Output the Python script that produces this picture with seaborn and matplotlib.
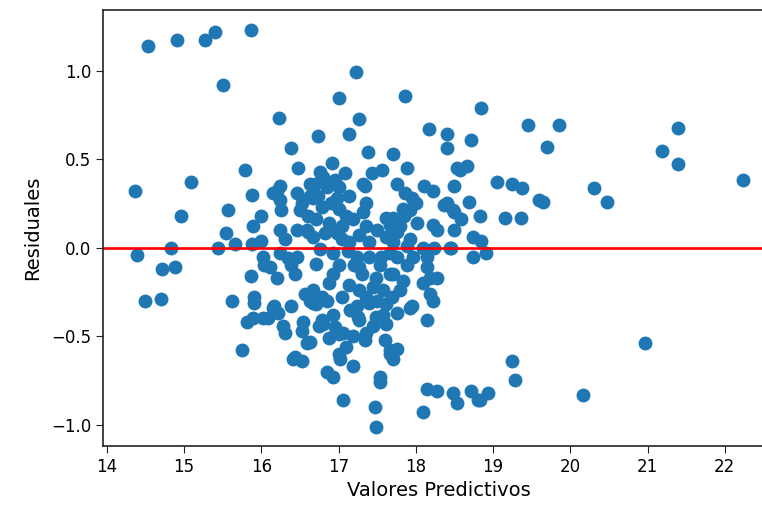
import matplotlib
matplotlib.use("Agg")
import matplotlib.pyplot as plt
import seaborn as sns
import pandas as pd

# Predicted values (x) and residuals (y)
predichos = [
    14.36, 14.39, 14.49, 14.53, 14.70, 14.71, 14.83, 14.88, 14.91, 14.96,
    15.09, 15.27, 15.40, 15.44, 15.50, 15.54, 15.57, 15.62, 15.66, 15.75,
    15.79, 15.81, 15.86, 15.86, 15.88, 15.88, 15.89, 15.89, 15.91, 15.91,
    16.00, 16.00, 16.02, 16.02, 16.04, 16.09, 16.11, 16.15, 16.15, 16.17,
    16.20, 16.20, 16.22, 16.23, 16.24, 16.24, 16.24, 16.24, 16.26, 16.28,
    16.30, 16.30, 16.35, 16.38, 16.38, 16.39, 16.41, 16.43, 16.43, 16.46,
    16.46, 16.46, 16.48, 16.50, 16.52, 16.52, 16.52, 16.54, 16.56, 16.59,
    16.59, 16.60, 16.63, 16.63, 16.63, 16.63, 16.67, 16.67, 16.67, 16.67,
    16.69, 16.71, 16.71, 16.71, 16.73, 16.73, 16.75, 16.76, 16.76, 16.79,
    16.79, 16.79, 16.80, 16.85, 16.85, 16.88, 16.88, 16.88, 16.91, 16.93,
    16.93, 16.93, 16.93, 16.98, 16.98, 17.00, 17.01, 17.01, 17.01, 17.01,
    17.01, 17.02, 17.05, 17.05, 17.06, 17.06, 17.10, 17.13, 17.14, 17.14,
    17.14, 17.19, 17.19, 17.19, 17.22, 17.24, 17.24, 17.25, 17.26, 17.27,
    17.27, 17.27, 17.27, 17.31, 17.31, 17.34, 17.34, 17.36, 17.36, 17.38,
    17.40, 17.40, 17.40, 17.43, 17.47, 17.49, 17.49, 17.49, 17.53, 17.53,
    17.54, 17.56, 17.57, 17.57, 17.62, 17.62, 17.62, 17.62, 17.66, 17.66,
    17.66, 17.66, 17.66, 17.69, 17.70, 17.70, 17.70, 17.70, 17.71, 17.75,
    17.75, 17.75, 17.75, 17.75, 17.79, 17.83, 17.83, 17.86, 17.86, 17.88,
    17.88, 17.88, 17.92, 17.92, 17.92, 17.95, 17.96, 18.01, 18.09, 18.09,
    18.09, 18.11, 18.14, 18.14, 18.15, 18.15, 18.17, 18.18, 18.18, 18.22,
    18.22, 18.22, 18.24, 18.28, 18.28, 18.28, 18.37, 18.40, 18.40, 18.40,
    18.44, 18.46, 18.48, 18.48, 18.50, 18.50, 18.50, 18.53, 18.53, 18.57,
    18.59, 18.66, 18.69, 18.71, 18.72, 18.74, 18.74, 18.80, 18.83, 18.85,
    18.85, 18.91, 18.93, 18.83,
    19.05, 19.16, 19.24, 19.25, 19.29, 19.36, 19.38, 19.45, 19.59, 19.65,
    19.70, 19.85, 20.16, 20.31, 20.48, 20.97, 21.19, 21.39, 21.39, 22.23,
    16.80, 16.90, 17.10, 16.95, 17.08, 16.82, 17.12, 17.35, 17.45, 17.60,
    17.30, 17.50, 17.80, 17.95, 17.85, 18.00,
    16.95, 17.15, 17.20, 17.45, 17.55, 16.85, 17.05, 16.60, 17.35, 17.50,
]
residuales = [
    0.32, -0.04, -0.30, 1.14, -0.29, -0.12, 0.00, -0.11, 1.17, 0.18,
    0.37, 1.17, 1.22, 0.00, 0.92, 0.08, 0.21, -0.30, 0.02, -0.58,
    0.44, -0.42, 1.23, -0.16, 0.30, 0.02, 0.12, -0.40, -0.28, -0.31,
    0.18, 0.04, -0.05, -0.40, -0.10, -0.40, -0.11, 0.31, -0.34, -0.33,
    0.32, -0.17, -0.37, 0.73, 0.35, 0.27, 0.10, -0.03, 0.21, -0.44,
    0.05, -0.48, -0.06, 0.56, -0.33, -0.10, -0.63, -0.15, -0.62, 0.31,
    0.10, -0.05, 0.45, 0.21, 0.25, -0.47, -0.64, -0.42, -0.26, 0.10,
    -0.54, 0.09, 0.36, 0.29, -0.30, -0.53, 0.28, 0.06, -0.24, -0.31,
    0.36, 0.16, -0.09, -0.32, 0.63, 0.29, -0.44, 0.43, -0.01, 0.23,
    -0.28, -0.41, -0.43, 0.34, -0.70, 0.14, -0.20, -0.51, 0.48, -0.03,
    -0.15, -0.38, -0.73, 0.28, 0.08, 0.845, 0.34, 0.22, -0.10, -0.49,
    -0.60, -0.63, 0.12, -0.28, -0.48, -0.86, -0.56, 0.64, 0.29, 0.03,
    -0.21, 0.16, -0.50, -0.67, 0.99, -0.05, -0.33, -0.39, 0.725, 0.07,
    -0.11, -0.24, -0.41, 0.36, 0.20, 0.35, -0.52, 0.12, -0.48, 0.54,
    0.03, -0.05, -0.31, 0.42, -0.90, -0.17, -0.39, -1.01, -0.10, -0.73,
    -0.76, 0.44, -0.24, -0.38, 0.17, 0.06, -0.32, -0.43, 0.13, -0.03,
    -0.15, -0.58, -0.60, -0.28, 0.17, 0.03, -0.15, -0.63, 0.53, 0.36,
    0.09, -0.05, -0.37, -0.57, -0.24, 0.22, -0.19, 0.855, 0.31, 0.45,
    0.01, -0.10, 0.21, 0.05, -0.34, -0.33, -0.05, 0.14, 0.00, -0.20,
    -0.93, 0.35, -0.05, -0.11, -0.41, -0.80, 0.67, -0.17, -0.26, 0.32,
    0.13, -0.30, 0.00, 0.10, -0.17, -0.81, 0.24, 0.64, 0.56, 0.25,
    0.00, 0.00, 0.21, -0.82, 0.35, 0.20, 0.10, 0.45, -0.88, 0.44,
    0.16, 0.46, 0.26, -0.81, 0.61, 0.06, -0.05, -0.86, 0.18, 0.79,
    0.04, -0.03, -0.82, -0.86,
    0.37, 0.17, 0.36, -0.64, -0.75, 0.17, 0.335, 0.69, 0.27, 0.26,
    0.57, 0.69, -0.83, 0.335, 0.26, -0.54, 0.545, 0.675, 0.47, 0.38,
    0.40, 0.25, 0.18, 0.38, 0.42, 0.08, -0.02, -0.28, -0.44, -0.52,
    -0.15, -0.30, 0.12, 0.28, 0.18, 0.25,
    -0.45, -0.35, -0.10, -0.22, -0.05, -0.30, 0.05, 0.18, 0.25, 0.10,
]

x_ticks = [14, 15, 16, 17, 18, 19, 20, 21, 22]
y_ticks = [-1.0, -0.5, 0.0, 0.5, 1.0]

df = pd.DataFrame({"Valores Predictivos": predichos, "Residuales": residuales})

fig = plt.figure(figsize=(7.62, 5.12), dpi=100)
ax = fig.add_axes([103 / 762, 66 / 512, 672 / 762, 436 / 512])

sns.scatterplot(data=df, x="Valores Predictivos", y="Residuales", ax=ax,
                color="#1f77b4", s=100, linewidth=0, alpha=1)
ax.axhline(0, color="red", linewidth=1.9)

ax.set_xlim(13.95, 22.65)
ax.set_ylim(-1.12, 1.342)
ax.set_xticks(x_ticks)
ax.set_yticks(y_ticks)
ax.set_xticklabels([str(t) for t in x_ticks])
ax.set_yticklabels([f"{t:.1f}".replace("-", "\u2212") for t in y_ticks])
ax.tick_params(labelsize=12, length=5, color="#222222")
ax.set_xlabel("Valores Predictivos", fontsize=14)
ax.set_ylabel("Residuales", fontsize=14, labelpad=6)
for sp in ax.spines.values():
    sp.set_color("#222222")
    sp.set_linewidth(1.2)

fig.savefig("out.png", dpi=100)
